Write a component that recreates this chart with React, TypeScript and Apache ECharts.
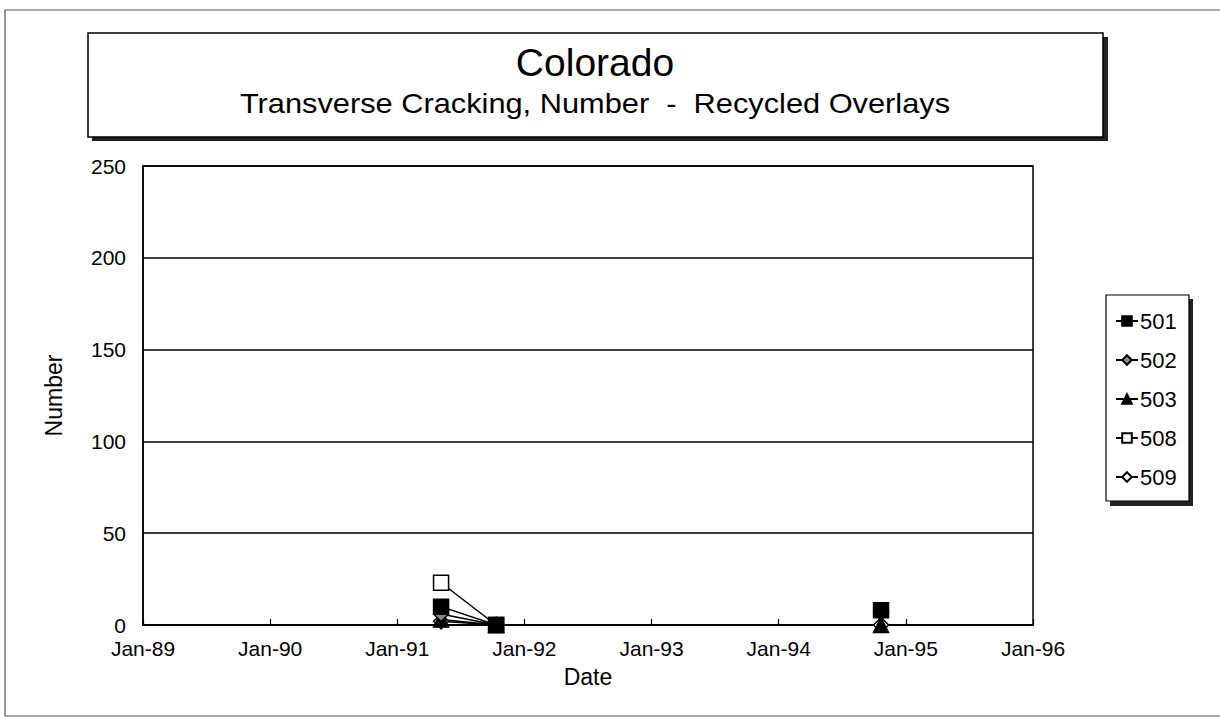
import React, { useEffect, useRef } from "react";
import * as echarts from "echarts";

// ---- Data ----
const surveyDates = ["1991-05-05", "1991-10-11", null, "1994-10-21"];
const seriesNames = ["501", "502", "503", "508", "509"];
const values501 = [10, 0, null, 8];
const values502 = [6, 0, null, 7];
const values503 = [3, 0, null, 0];
const values508 = [23, 0, null, null];
const values509 = [2, 0, null, 0];
const yTicks = [0, 50, 100, 150, 200, 250];
const xStartYear = 1989;
const xEndYear = 1996;

const toDecimalYear = (d: string | null): number | null => {
  if (!d) return null;
  const [y, m, day] = d.split("-").map(Number);
  return y + (m - 1) / 12 + (day - 1) / 365;
};

const FONT = "Liberation Sans, Arial, sans-serif";

export default function App() {
  const ref = useRef<HTMLDivElement>(null);
  useEffect(() => {
    if (!ref.current) return;
    const chart = echarts.init(ref.current, null, { renderer: "svg" });
    const allValues = [values501, values502, values503, values508, values509];
    const symbols = ["rect", "diamond", "triangle", "rect", "diamond"];
    const fills = ["#000", "#8a8a8a", "#000", "#fff", "#fff"];
    const series = seriesNames.map((name, i) => ({
      name,
      type: "line",
      connectNulls: false,
      symbol: symbols[i],
      symbolSize: 15,
      showSymbol: true,
      lineStyle: { color: "#000", width: 1.5 },
      itemStyle: { color: fills[i], borderColor: "#000", borderWidth: 1.5 },
      z: 10 - i,
      data: surveyDates.map((d, k) => {
        const x = toDecimalYear(d);
        const v = allValues[i][k];
        return x === null || v === null ? [null, null] : [x, v];
      }),
    }));

    chart.setOption({
      animation: false,
      backgroundColor: "#fff",
      textStyle: { fontFamily: FONT },
      grid: {
        left: 143,
        right: 187,
        top: 166,
        bottom: 93,
        show: true,
        borderColor: "#000",
        borderWidth: 1.5,
        containLabel: false,
      },
      graphic: [
        // outer frame
        { type: "rect", shape: { x: 5, y: 10, width: 1240, height: 706 }, style: { fill: "none", stroke: "#555", lineWidth: 1.2 }, silent: true, z: -10 },
        // title box + shadow
        { type: "rect", shape: { x: 92, y: 37, width: 1016, height: 104 }, style: { fill: "#222" }, silent: true, z: -5 },
        { type: "rect", shape: { x: 88, y: 33, width: 1015, height: 104 }, style: { fill: "#fff", stroke: "#000", lineWidth: 1.5 }, silent: true, z: -4 },
        { type: "text", x: 595, y: 62, style: { text: "Colorado", font: `39px ${FONT}`, fill: "#000", align: "center", verticalAlign: "middle" }, silent: true },
        { type: "text", x: 595, y: 104, scaleX: 1.14, style: { text: "Transverse Cracking, Number  -  Recycled Overlays", font: `27px ${FONT}`, fill: "#000", align: "center", verticalAlign: "middle" }, silent: true },
        // legend box + shadow
        { type: "rect", shape: { x: 1110, y: 299, width: 83, height: 207 }, style: { fill: "#222" }, silent: true, z: -5 },
        { type: "rect", shape: { x: 1106, y: 295, width: 83, height: 206 }, style: { fill: "#fff", stroke: "#000", lineWidth: 1.2 }, silent: true, z: -4 },
      ],
      legend: {
        data: seriesNames,
        orient: "vertical",
        left: 1110,
        top: 305,
        itemGap: 17,
        itemWidth: 22,
        itemHeight: 12,
        textStyle: { fontSize: 22, color: "#000", fontFamily: FONT, padding: [0, 0, 0, -3] },
        inactiveColor: "#000",
      },
      xAxis: {
        type: "value",
        min: xStartYear,
        max: xEndYear,
        interval: 1,
        name: "Date",
        nameLocation: "middle",
        nameGap: 40,
        nameTextStyle: { fontSize: 23, color: "#000", fontFamily: FONT },
        axisLine: { show: true, lineStyle: { color: "#000", width: 1.5 } },
        axisTick: { show: true, inside: true, length: 6, lineStyle: { color: "#000", width: 1.2 } },
        axisLabel: {
          fontSize: 21,
          color: "#000",
          fontFamily: FONT,
          margin: 13,
          formatter: (v: number) => "Jan-" + String(Math.round(v)).slice(2),
        },
        splitLine: { show: false },
      },
      yAxis: {
        type: "value",
        min: yTicks[0],
        max: yTicks[yTicks.length - 1],
        interval: 50,
        name: "Number",
        nameLocation: "middle",
        nameGap: 78,
        nameRotate: 90,
        nameTextStyle: { fontSize: 23, color: "#000", fontFamily: FONT },
        axisLine: { show: true, lineStyle: { color: "#000", width: 1.5 } },
        axisTick: { show: false },
        axisLabel: { fontSize: 21, color: "#000", fontFamily: FONT, margin: 17 },
        splitLine: { show: true, lineStyle: { color: "#000", width: 1.5 } },
      },
      series,
    });
    return () => chart.dispose();
  }, []);
  return (
    <div
      ref={ref}
      style={{ position: "fixed", left: 0, top: 0, width: 1220, height: 718, background: "#fff" }}
    />
  );
}
